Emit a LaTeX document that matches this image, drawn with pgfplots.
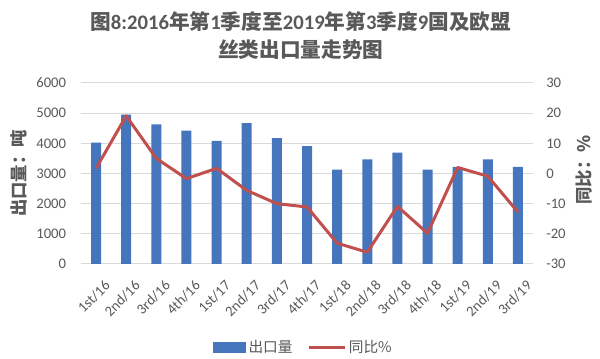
\documentclass[border=0pt]{standalone}
\usepackage{pgfplots}
\pgfplotsset{compat=1.18}
\usepackage{fontspec}
\setmainfont{Carlito}
\newfontfamily\cjk{Noto Sans CJK SC}
\definecolor{barblue}{RGB}{69,117,189}
\definecolor{linered}{RGB}{192,80,77}
\definecolor{txtgray}{RGB}{89,89,89}
\definecolor{gridgray}{RGB}{217,217,217}
\begin{document}
\begin{tikzpicture}
\path[use as bounding box] (0,0) rectangle (450pt,269.25pt);
\begin{axis}[
  at={(60.75pt,71.25pt)}, anchor=south west,
  scale only axis, width=339pt, height=135.75pt,
  xmin=-0.5, xmax=14.5, ymin=0, ymax=6000,
  ytick={0,1000,...,6000},
  xtick={0,...,14},
  xticklabels={1st/16,2nd/16,3rd/16,4th/16,1st/17,2nd/17,3rd/17,4th/17,1st/18,2nd/18,3rd/18,4th/18,1st/19,2nd/19,3rd/19},
  major tick length=0pt,
  axis line style={draw=none},
  ymajorgrids, grid style={gridgray, line width=0.75pt},
  /pgf/number format/assume math mode=true,
  /pgf/number format/1000 sep={},
  yticklabel style={font=\fontsize{11}{13}\selectfont, text=txtgray, anchor=east, inner sep=0pt, xshift=-11pt},
  xticklabel style={font=\fontsize{11}{13}\selectfont, text=txtgray, rotate=45, anchor=north east, inner sep=0pt, yshift=-12pt, xshift=-4pt},
  scaled y ticks=false,
  ylabel={出口量：吨},
  ylabel style={at={(axis description cs:-0.137,0.5)}, anchor=center, font=\cjk\bfseries\fontsize{13}{15}\selectfont, text=txtgray},
  title={{\cjk 图}8:2016{\cjk 年第}1{\cjk 季度至}2019{\cjk 年第}3{\cjk 季度}9{\cjk 国及欧盟}\\{\cjk 丝类出口量走势图}},
  title style={at={(axis description cs:0.486,1.22)}, anchor=center, align=center, font=\bfseries\fontsize{15.5}{21}\selectfont, text=txtgray},
]
\addplot[ybar, bar width=7.5pt, bar shift=0pt, fill=barblue, draw=none] coordinates {
(0,4020) (1,4950) (2,4630) (3,4420) (4,4080) (5,4670) (6,4170) (7,3910)
(8,3130) (9,3470) (10,3690) (11,3130) (12,3220) (13,3470) (14,3220)};
\end{axis}
\begin{axis}[
  at={(60.75pt,71.25pt)}, anchor=south west,
  scale only axis, width=339pt, height=135.75pt,
  xmin=-0.5, xmax=14.5, ymin=-30, ymax=30,
  ytick={-30,-20,...,30},
  axis x line=none, axis y line*=right,
  y axis line style={draw=none},
  major tick length=0pt,
  /pgf/number format/assume math mode=true,
  yticklabel style={font=\fontsize{11}{13}\selectfont, text=txtgray, anchor=west, inner sep=0pt, xshift=9.75pt},
  ylabel={同比：\%},
  ylabel style={at={(axis description cs:1.113,0.52)}, anchor=center, rotate=0, font=\cjk\bfseries\fontsize{13}{15}\selectfont, text=txtgray},
  legend columns=2,
  legend style={draw=none, fill=none, at={(axis description cs:0.493,-0.46)}, anchor=center, font=\cjk\fontsize{11}{13}\selectfont, text=txtgray, /tikz/every even column/.append style={column sep=9pt}},
]
\addlegendimage{legend image code/.code={\fill[barblue] (0pt,-3.75pt) rectangle (24pt,3.75pt);}}
\addlegendentry{出口量}
\addplot[linered, line width=2.25pt, line join=round, mark=none,
  legend image code/.code={\draw[linered, line width=2.25pt] (0pt,0pt) -- (27pt,0pt);}] coordinates {
(0,1.7) (1,19.1) (2,5.0) (3,-1.7) (4,1.7) (5,-5.6) (6,-10.0) (7,-11.1)
(8,-23.1) (9,-26.1) (10,-10.9) (11,-19.8) (12,2.0) (13,-0.9) (14,-12.8)};
\addlegendentry{同比\%}
\end{axis}
\end{tikzpicture}
\end{document}
